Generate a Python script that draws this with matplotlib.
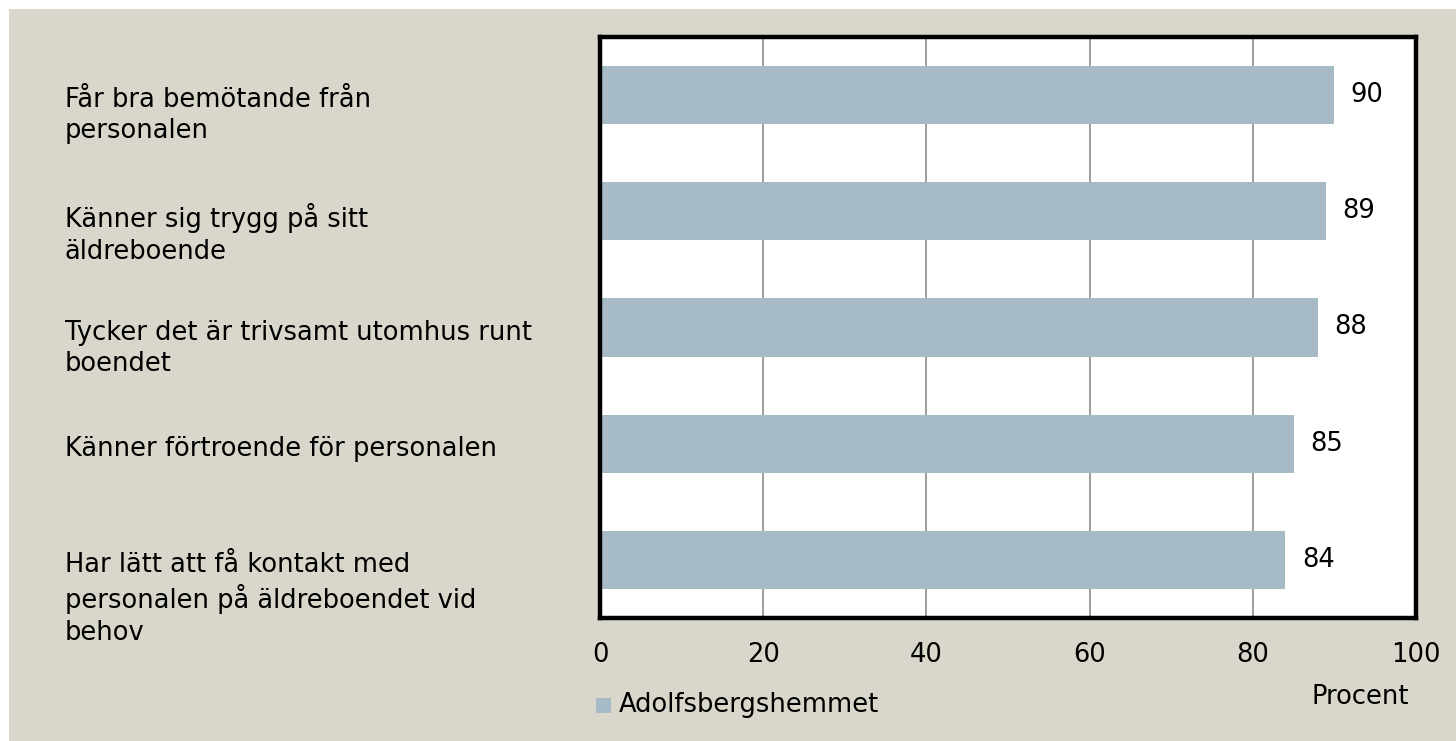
import matplotlib
matplotlib.use("Agg")
import matplotlib.pyplot as plt
from matplotlib.patches import Rectangle
from matplotlib.transforms import blended_transform_factory, offset_copy

# survey results, percent answering positively
categories = [
    "Får bra bemötande från\npersonalen",
    "Känner sig trygg på sitt\näldreboende",
    "Tycker det är trivsamt utomhus runt\nboendet",
    "Känner förtroende för personalen",
    "Har lätt att få kontakt med\npersonalen på äldreboendet vid\nbehov",
]
values = [90, 89, 88, 85, 84]
series_name = "Adolfsbergshemmet"
xticks = [0, 20, 40, 60, 80, 100]

bg = "#D9D7CB"
bar_color = "#A7BBC6"
W, H = 1456, 741
fs = 18.5

plt.rcParams['font.family'] = ['DejaVu Sans']
fig = plt.figure(figsize=(W / 100, H / 100), dpi=100)
fig.patch.set_facecolor("white")
fig.patches.append(Rectangle((9 / W, 0), 1, 1 - 9 / H, transform=fig.transFigure,
                             facecolor=bg, edgecolor="none", zorder=-10))

ax = fig.add_axes([600 / W, 1 - 618 / H, (1416 - 600) / W, (618 - 37) / H])
ax.set_facecolor("white")

y = list(range(len(categories)))
ax.barh(y, values, height=0.5, color=bar_color, zorder=2)
ax.set_ylim(len(categories) - 0.5, -0.5)
ax.set_xlim(0, 100)
ax.set_xticks(xticks)
ax.set_yticks([])
ax.tick_params(axis="x", length=0, pad=17, labelsize=fs)
ax.grid(axis="x", color="#8c8c8c", linewidth=1.2, zorder=1)
for s in ax.spines.values():
    s.set_linewidth(3.2)
    s.set_color("black")

# value labels next to bars
for yi, v in zip(y, values):
    ax.text(v + 2, yi, str(v), va="center", ha="left", fontsize=fs, zorder=3)

# category labels, first line just below the bar centre
trans = blended_transform_factory(fig.transFigure, ax.transData)
trans = offset_copy(trans, fig=fig, y=8, units="dots")
for yi, lab in zip(y, categories):
    ax.text(65 / W, yi, lab, transform=trans, ha="left", va="top",
            fontsize=fs, linespacing=1.27)

# legend and axis caption
fig.patches.append(Rectangle((596 / W, 1 - 713 / H), 15 / W, 15 / H,
                             transform=fig.transFigure, facecolor=bar_color,
                             edgecolor="none"))
fig.text(619 / W, 1 - 705 / H, series_name, va="center", ha="left", fontsize=fs)
fig.text(1360 / W, 1 - 697 / H, "Procent", va="center", ha="center", fontsize=fs)

fig.savefig("out.png", dpi=100, facecolor=fig.get_facecolor())
